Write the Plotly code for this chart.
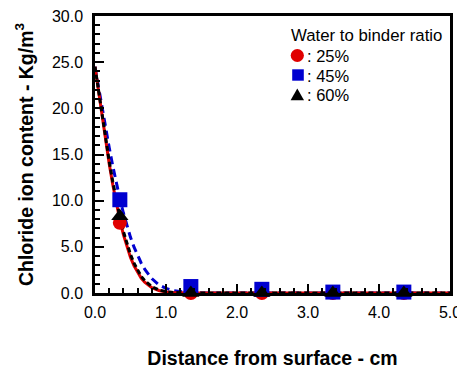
import plotly.graph_objects as go

# Measured points
depth = [0.35, 1.35, 2.35, 3.35, 4.35]
wb25 = [7.6, 0.0, 0.0, 0.0, 0.0]
wb45 = [10.1, 0.7, 0.4, 0.1, 0.1]
wb60 = [8.3, 0.0, 0.0, 0.0, 0.0]

# Fitted profiles
fit_x = [0, 0.05, 0.10, 0.15, 0.20, 0.25, 0.30, 0.35, 0.40, 0.45, 0.50, 0.55,
         0.60, 0.65, 0.70, 0.75, 0.80, 0.90, 1.00, 1.10, 1.20, 1.30, 1.50, 2.0,
         3.0, 4.0, 5.0]
fit25 = [24.5, 21.74, 19.04, 16.45, 14.00, 11.75, 9.70, 7.89, 6.32, 4.98, 3.85,
         2.94, 2.20, 1.62, 1.17, 0.83, 0.58, 0.27, 0.11, 0.05, 0.02, 0.01, 0.0,
         0.0, 0.0, 0.0, 0.0]
fit45 = [24.5, 22.24, 20.01, 17.83, 15.75, 13.77, 11.93, 10.22, 8.66, 7.26, 6.03,
         4.96, 4.04, 3.25, 2.58, 2.01, 1.56, 0.88, 0.50, 0.26, 0.13, 0.06, 0.01,
         0.0, 0.0, 0.0, 0.0]
fit60 = [24.5, 21.83, 19.20, 16.68, 14.29, 12.08, 10.03, 8.24, 6.66, 5.31, 4.17,
         3.23, 2.45, 1.82, 1.34, 0.97, 0.69, 0.33, 0.15, 0.06, 0.02, 0.01, 0.0,
         0.0, 0.0, 0.0, 0.0]

legend_title = "Water to binder ratio"
legend_labels = [": 25%", ": 45%", ": 60%"]
colors = ["#e00000", "#0000d0", "#000000"]
symbols = ["circle", "square", "triangle-up"]

FONT = "Liberation Sans, Arial, sans-serif"

# figure geometry (page has an 8px body margin)
OFF = 8
W, H = 465, 370
L, R, T, B = 87, 23, 8, 85
PW, PH = W - L - R, H - T - B


def px2paper(px, py):
    # page pixel -> paper fraction
    return (px - OFF - L) / PW, (H - B - (py - OFF)) / PH


fig = go.Figure()
# fitted curves
fig.add_trace(go.Scatter(x=fit_x, y=fit45, mode="lines", showlegend=False,
                         line=dict(color=colors[1], width=3, dash="8px,5px"),
                         cliponaxis=False))
fig.add_trace(go.Scatter(x=fit_x, y=fit25, mode="lines", showlegend=False,
                         line=dict(color=colors[0], width=3),
                         cliponaxis=False))
fig.add_trace(go.Scatter(x=fit_x, y=fit60, mode="lines", showlegend=False,
                         line=dict(color=colors[2], width=3, dash="5px,3px"),
                         cliponaxis=False))
# points
for ys, lab, c, s, sz in zip([wb25, wb45, wb60], legend_labels, colors, symbols,
                             [14, 15, 15]):
    fig.add_trace(go.Scatter(x=depth, y=ys, mode="markers", name=lab,
                             showlegend=False,
                             marker=dict(color=c, symbol=s, size=sz,
                                         line=dict(width=0)),
                             cliponaxis=False))

axis_common = dict(
    showline=True, linecolor="black", linewidth=2.5, mirror=True,
    ticks="inside", tickcolor="black", tickwidth=2, ticklen=9,
    showgrid=False, zeroline=False, tickformat=".1f", automargin=False,
    ticklabeloverflow="allow",
    tickfont=dict(family=FONT, size=16, color="black"),
)

fig.update_xaxes(range=[0, 5], dtick=1, tick0=0, ticklabelstandoff=3,
                 minor=dict(ticks="inside", dtick=0.2, ticklen=5, tickwidth=2,
                            tickcolor="black", showgrid=False),
                 title=dict(text="<b>Distance from surface - cm</b>",
                            font=dict(family=FONT, size=19.5, color="black"),
                            standoff=32),
                 **axis_common)
fig.update_yaxes(range=[0, 30], dtick=5, tick0=0, ticklabelstandoff=6,
                 minor=dict(ticks="inside", dtick=1, ticklen=5, tickwidth=2,
                            tickcolor="black", showgrid=False),
                 title=dict(text="<b>Chloride ion content - Kg/m<sup>3</sup></b>",
                            font=dict(family=FONT, size=19.5, color="black"),
                            standoff=14),
                 **axis_common)

# legend: title, key symbols (pixel-sized shapes) and labels
tx, ty = px2paper(289, 35.5)
fig.add_annotation(text=legend_title, x=tx, y=ty, xref="paper", yref="paper",
                   xanchor="left", yanchor="middle", align="left",
                   showarrow=False,
                   font=dict(family=FONT, size=16.8, color="black"))
row_y = [55.5, 75, 94.5]
key_x = [297.3, 298, 297.3]
for i, (lab, c, sym) in enumerate(zip(legend_labels, colors, symbols)):
    kx, ky = px2paper(key_x[i], row_y[i])
    common = dict(xref="paper", yref="paper", xsizemode="pixel",
                  ysizemode="pixel", xanchor=kx, yanchor=ky,
                  fillcolor=c, line=dict(width=0), layer="above")
    if sym == "circle":
        fig.add_shape(type="circle", x0=-6.6, x1=6.6, y0=-6.4, y1=6.4, **common)
    elif sym == "square":
        fig.add_shape(type="rect", x0=-5.8, x1=5.8, y0=-5.7, y1=5.7, **common)
    else:
        fig.add_shape(type="path", path="M -6.7,-5.8 L 6.7,-5.8 L 0,5.9 Z",
                      **common)
    lx, ly = px2paper(305, row_y[i] + 0.5)
    fig.add_annotation(text=lab, x=lx, y=ly, xref="paper", yref="paper",
                       xanchor="left", yanchor="middle", align="left",
                       showarrow=False,
                       font=dict(family=FONT, size=16.5, color="black"))

fig.update_layout(
    width=W, height=H,
    margin=dict(l=L, r=R, t=T, b=B),
    plot_bgcolor="white", paper_bgcolor="white",
    showlegend=False,
)

fig.write_html("out.html")
